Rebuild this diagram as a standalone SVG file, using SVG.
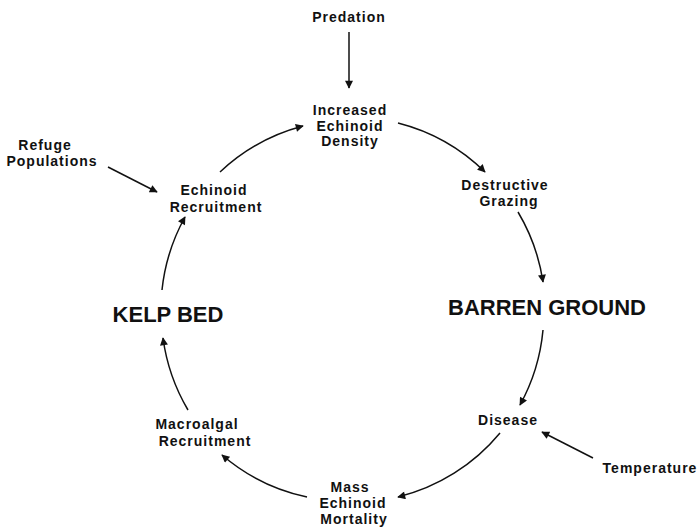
<svg xmlns="http://www.w3.org/2000/svg" width="699" height="530" viewBox="0 0 699 530">
<style>
text{font-family:"Liberation Sans",Arial,Helvetica,sans-serif;font-weight:bold;fill:#111;text-anchor:middle}
.s{font-size:14px;letter-spacing:1px}
.b{font-size:22px}
.c path{fill:none;stroke:#111;stroke-width:1.5;marker-end:url(#ah)}
</style>
<defs>
<marker id="ah" viewBox="0 0 10 10" refX="9" refY="5" markerUnits="userSpaceOnUse" markerWidth="10" markerHeight="8" orient="auto">
<path d="M0,0 L10,5 L0,10 z" fill="#111"/>
</marker>
</defs>
<rect width="699" height="530" fill="#fff"/>
<g class="c" id="connectors">
<path d="M349,32 L349,88"/>
<path d="M108,167 L157,192"/>
<path d="M593,458 L542,432"/>
<path d="M220,172 A192,192 0 0 1 303,126"/>
<path d="M398,123 A192,192 0 0 1 485,172"/>
<path d="M518,212 A192,192 0 0 1 543,282"/>
<path d="M543,330 A192,192 0 0 1 520,405"/>
<path d="M500,433 A192,192 0 0 1 398,497"/>
<path d="M307,497 A192,192 0 0 1 222,455"/>
<path d="M188,410 A192,192 0 0 1 163,338"/>
<path d="M162,290 A192,192 0 0 1 185,217"/>
</g>
<g id="predation"><text class="s" x="349" y="22">Predation</text></g>
<g id="increased"><text class="s" x="350" y="115">Increased</text><text class="s" x="350" y="131">Echinoid</text><text class="s" x="350" y="146">Density</text></g>
<g id="refuge"><text class="s" x="45" y="150">Refuge</text><text class="s" x="52" y="166">Populations</text></g>
<g id="echinoid-recruitment"><text class="s" x="214" y="195">Echinoid</text><text class="s" x="216" y="212">Recruitment</text></g>
<g id="destructive"><text class="s" x="505" y="190">Destructive</text><text class="s" x="509" y="206">Grazing</text></g>
<g id="barren"><text class="b" x="547" y="315">BARREN GROUND</text></g>
<g id="kelp"><text class="b" x="168" y="322">KELP BED</text></g>
<g id="disease"><text class="s" x="508" y="425">Disease</text></g>
<g id="temperature"><text class="s" x="650" y="473">Temperature</text></g>
<g id="mass"><text class="s" x="350" y="492">Mass</text><text class="s" x="353" y="508">Echinoid</text><text class="s" x="354" y="524">Mortality</text></g>
<g id="macroalgal"><text class="s" x="197" y="429">Macroalgal</text><text class="s" x="205" y="446">Recruitment</text></g>
</svg>
